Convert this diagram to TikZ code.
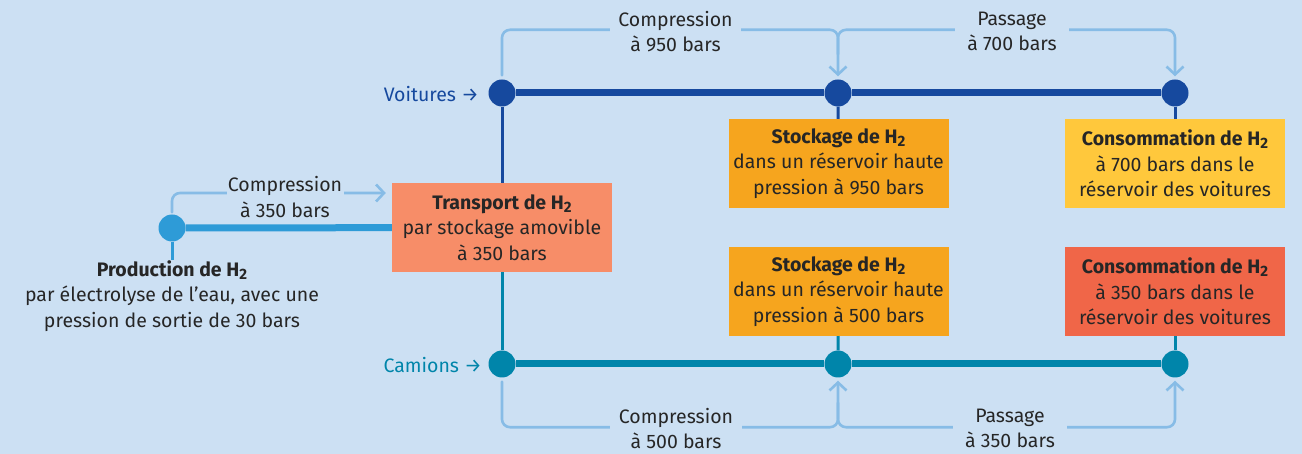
\documentclass[tikz,border=0pt]{standalone}
\usepackage{fontspec}
\setmainfont{Fira Sans}
\usetikzlibrary{arrows.meta,calc}

\definecolor{bg}{HTML}{CCE0F3}
\definecolor{txt}{HTML}{262626}
\definecolor{prodblue}{HTML}{2E9BD7}
\definecolor{carblue}{HTML}{16499E}
\definecolor{truckteal}{HTML}{0085AA}
\definecolor{brk}{HTML}{87BCE6}
\definecolor{salmon}{HTML}{F78D68}
\definecolor{orangebox}{HTML}{F6A51E}
\definecolor{yellowbox}{HTML}{FFC83C}
\definecolor{redbox}{HTML}{F06648}

\newcommand\Htwo{H\raisebox{-0.3ex}{\fontsize{15}{15}\selectfont 2}}

\tikzset{
  txtfont/.style={font=\fontsize{19.5}{25.5}\selectfont},
  dot/.style={circle, inner sep=0pt, minimum size=27pt, fill=#1},
  infobox/.style={rectangle, inner sep=0pt, minimum width=220pt, minimum height=89pt,
    align=center, fill=#1, text=txt, txtfont},
  caption/.style={align=center, text=txt, inner sep=0pt, txtfont},
  lbl/.style={fill=bg, align=center, text=txt, inner sep=0pt, txtfont},
  mainline/.style={line width=7pt, draw=#1},
  stem/.style={line width=3pt, draw=#1},
  bracket/.style={draw=brk, line width=2.6pt, rounded corners=8pt, line cap=round,
    -{Straight Barb[length=8pt,width=17pt]}},
}

\begin{document}
\begin{tikzpicture}[x=1pt,y=-1pt]
  \fill[bg] (0,0) rectangle (1302,454);
  \useasboundingbox (0,0) rectangle (1302,454);

  % production and transport
  \node[dot=prodblue] (p) at (172,228) {};
  \node[caption] (ptx) at (172,296)
    {\textbf{Production de \Htwo}\\par électrolyse de l’eau, avec une\\pression de sortie de 30 bars};
  \node[infobox=salmon] (t) at (502,227.5)
    {\textbf{Transport de \Htwo}\\par stockage amovible\\à 350 bars};

  % car line
  \node[dot=carblue] (v1) at (502,93) {};
  \node[dot=carblue] (v2) at (838,93) {};
  \node[dot=carblue] (v3) at (1175,93) {};
  \node[anchor=east, inner sep=0pt, text=carblue, txtfont] (vl) at (479,94) {Voitures →};

  % truck line
  \node[dot=truckteal] (c1) at (502,364) {};
  \node[dot=truckteal] (c2) at (838,364) {};
  \node[dot=truckteal] (c3) at (1175,364) {};
  \node[anchor=east, inner sep=0pt, text=truckteal, txtfont] (cl) at (482,365) {Camions →};

  % storage and consumption boxes
  \node[infobox=orangebox] (s1) at (838.5,163.5)
    {\textbf{Stockage de \Htwo}\\dans un réservoir haute\\pression à 950 bars};
  \node[infobox=yellowbox] (k1) at (1175,163.5)
    {\textbf{Consommation de \Htwo}\\à 700 bars dans le\\réservoir des voitures};
  \node[infobox=orangebox] (s2) at (838.5,291.5)
    {\textbf{Stockage de \Htwo}\\dans un réservoir haute\\pression à 500 bars};
  \node[infobox=redbox] (k2) at (1175,291.5)
    {\textbf{Consommation de \Htwo}\\à 350 bars dans le\\réservoir des voitures};

  % main lines
  \draw[mainline=prodblue] (p) -- (t);
  \draw[stem=prodblue] (p) -- (ptx.north);
  \draw[mainline=carblue] (v1) -- (v2);
  \draw[mainline=carblue] (v2) -- (v3);
  \draw[mainline=truckteal] (c1) -- (c2);
  \draw[mainline=truckteal] (c2) -- (c3);
  \draw[stem=carblue] (v1) -- (t);
  \draw[stem=truckteal] (t) -- (c1);
  \draw[stem=carblue] (v2) -- (s1);
  \draw[stem=carblue] (v3) -- (k1);
  \draw[stem=truckteal] (c2) -- (s2);
  \draw[stem=truckteal] (c3) -- (k2);

  % process brackets
  \draw[bracket] ($(p.north)+(0,-2)$) |- ($(t.west)+(-6,-34.5)$);
  \draw[bracket] ($(v1.north)+(0,-4)$) |- ($(v2.north)+(0,-49.5)$) -- ($(v2.north)+(0,-3)$);
  \draw[bracket] ($(v2.north)+(0,-25)$) |- ($(v3.north)+(0,-49.5)$) -- ($(v3.north)+(0,-3)$);
  \draw[bracket] ($(c1.south)+(0,4)$) |- ($(c2.south)+(0,49.5)$) -- ($(c2.south)+(0,3)$);
  \draw[bracket] ($(c2.south)+(0,25)$) |- ($(c3.south)+(0,49.5)$) -- ($(c3.south)+(0,3)$);

  % bracket labels
  \node[lbl, minimum width=117pt] (l350) at (285,197) {Compression\\à 350 bars};
  \node[lbl, minimum width=131pt] (l950) at (675.5,31.5) {Compression\\à 950 bars};
  \node[lbl, minimum width=114pt] (l700) at (1012,31.5) {Passage\\à 700 bars};
  \node[lbl, minimum width=132pt] (l500) at (676,428.5) {Compression\\à 500 bars};
  \node[lbl, minimum width=114pt] (lp350) at (1010,428.5) {Passage\\à 350 bars};
\end{tikzpicture}
\end{document}
